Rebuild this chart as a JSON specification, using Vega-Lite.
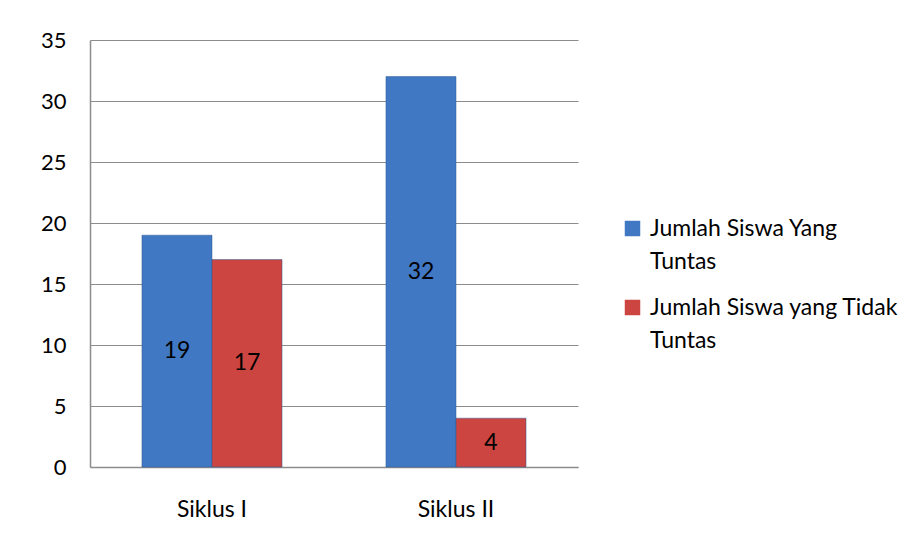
{
  "$schema": "https://vega.github.io/schema/vega-lite/v6.json",
  "width": 488,
  "height": 427,
  "autosize": "none",
  "padding": {"left": 90, "top": 40, "right": 342, "bottom": 80},
  "background": "white",
  "config": {
    "font": "Lato",
    "view": {"stroke": null},
    "style": {"guide-label": {"lineHeight": 33}}
  },
  "data": {
    "values": [
      {"siklus": "Siklus I", "series": "Jumlah Siswa Yang Tuntas", "value": 19},
      {"siklus": "Siklus I", "series": "Jumlah Siswa yang Tidak Tuntas", "value": 17},
      {"siklus": "Siklus II", "series": "Jumlah Siswa Yang Tuntas", "value": 32},
      {"siklus": "Siklus II", "series": "Jumlah Siswa yang Tidak Tuntas", "value": 4}
    ]
  },
  "encoding": {
    "x": {
      "field": "siklus",
      "type": "nominal",
      "title": null,
      "scale": {"paddingInner": 0.426, "paddingOuter": 0.213},
      "axis": {
        "labelAngle": 0,
        "labelFontSize": 23,
        "labelColor": "black",
        "labelPadding": 31,
        "ticks": false,
        "domainColor": "#8c8c8c",
        "domainWidth": 1.5
      }
    },
    "xOffset": {"field": "series", "type": "nominal", "scale": {"paddingInner": 0}}
  },
  "layer": [
    {
      "mark": {"type": "bar", "stroke": "#2f5a94", "strokeWidth": 0.5},
      "encoding": {
        "y": {
          "field": "value",
          "type": "quantitative",
          "title": null,
          "scale": {"domain": [0, 35]},
          "axis": {
            "values": [0, 5, 10, 15, 20, 25, 30, 35],
            "labelFontSize": 22,
            "labelColor": "black",
            "labelPadding": 24,
            "ticks": false,
            "domainColor": "#8c8c8c",
            "domainWidth": 1.5,
            "gridColor": "#8c8c8c",
            "gridWidth": 1.2
          }
        },
        "color": {
          "field": "series",
          "type": "nominal",
          "scale": {"range": ["#4178c4", "#cc4541"]},
          "legend": {
            "title": null,
            "orient": "none",
            "legendX": 531,
            "legendY": 177,
            "symbolType": "square",
            "symbolSize": 240,
            "symbolStrokeWidth": 0,
            "labelFontSize": 23,
            "labelColor": "black",
            "labelLimit": 400,
            "labelBaseline": "middle",
            "rowPadding": 22,
            "labelOffset": 6,
            "labelExpr": "datum.label == 'Jumlah Siswa Yang Tuntas' ? ['Jumlah Siswa Yang', 'Tuntas'] : ['Jumlah Siswa yang Tidak', 'Tuntas']"
          }
        }
      }
    },
    {
      "mark": {"type": "text", "fontSize": 23, "color": "black", "baseline": "middle"},
      "encoding": {
        "y": {
          "field": "value",
          "type": "quantitative",
          "scale": {"domain": [0, 70]},
          "axis": null
        },
        "text": {"field": "value", "type": "quantitative"}
      }
    }
  ],
  "resolve": {"scale": {"y": "independent"}}
}
